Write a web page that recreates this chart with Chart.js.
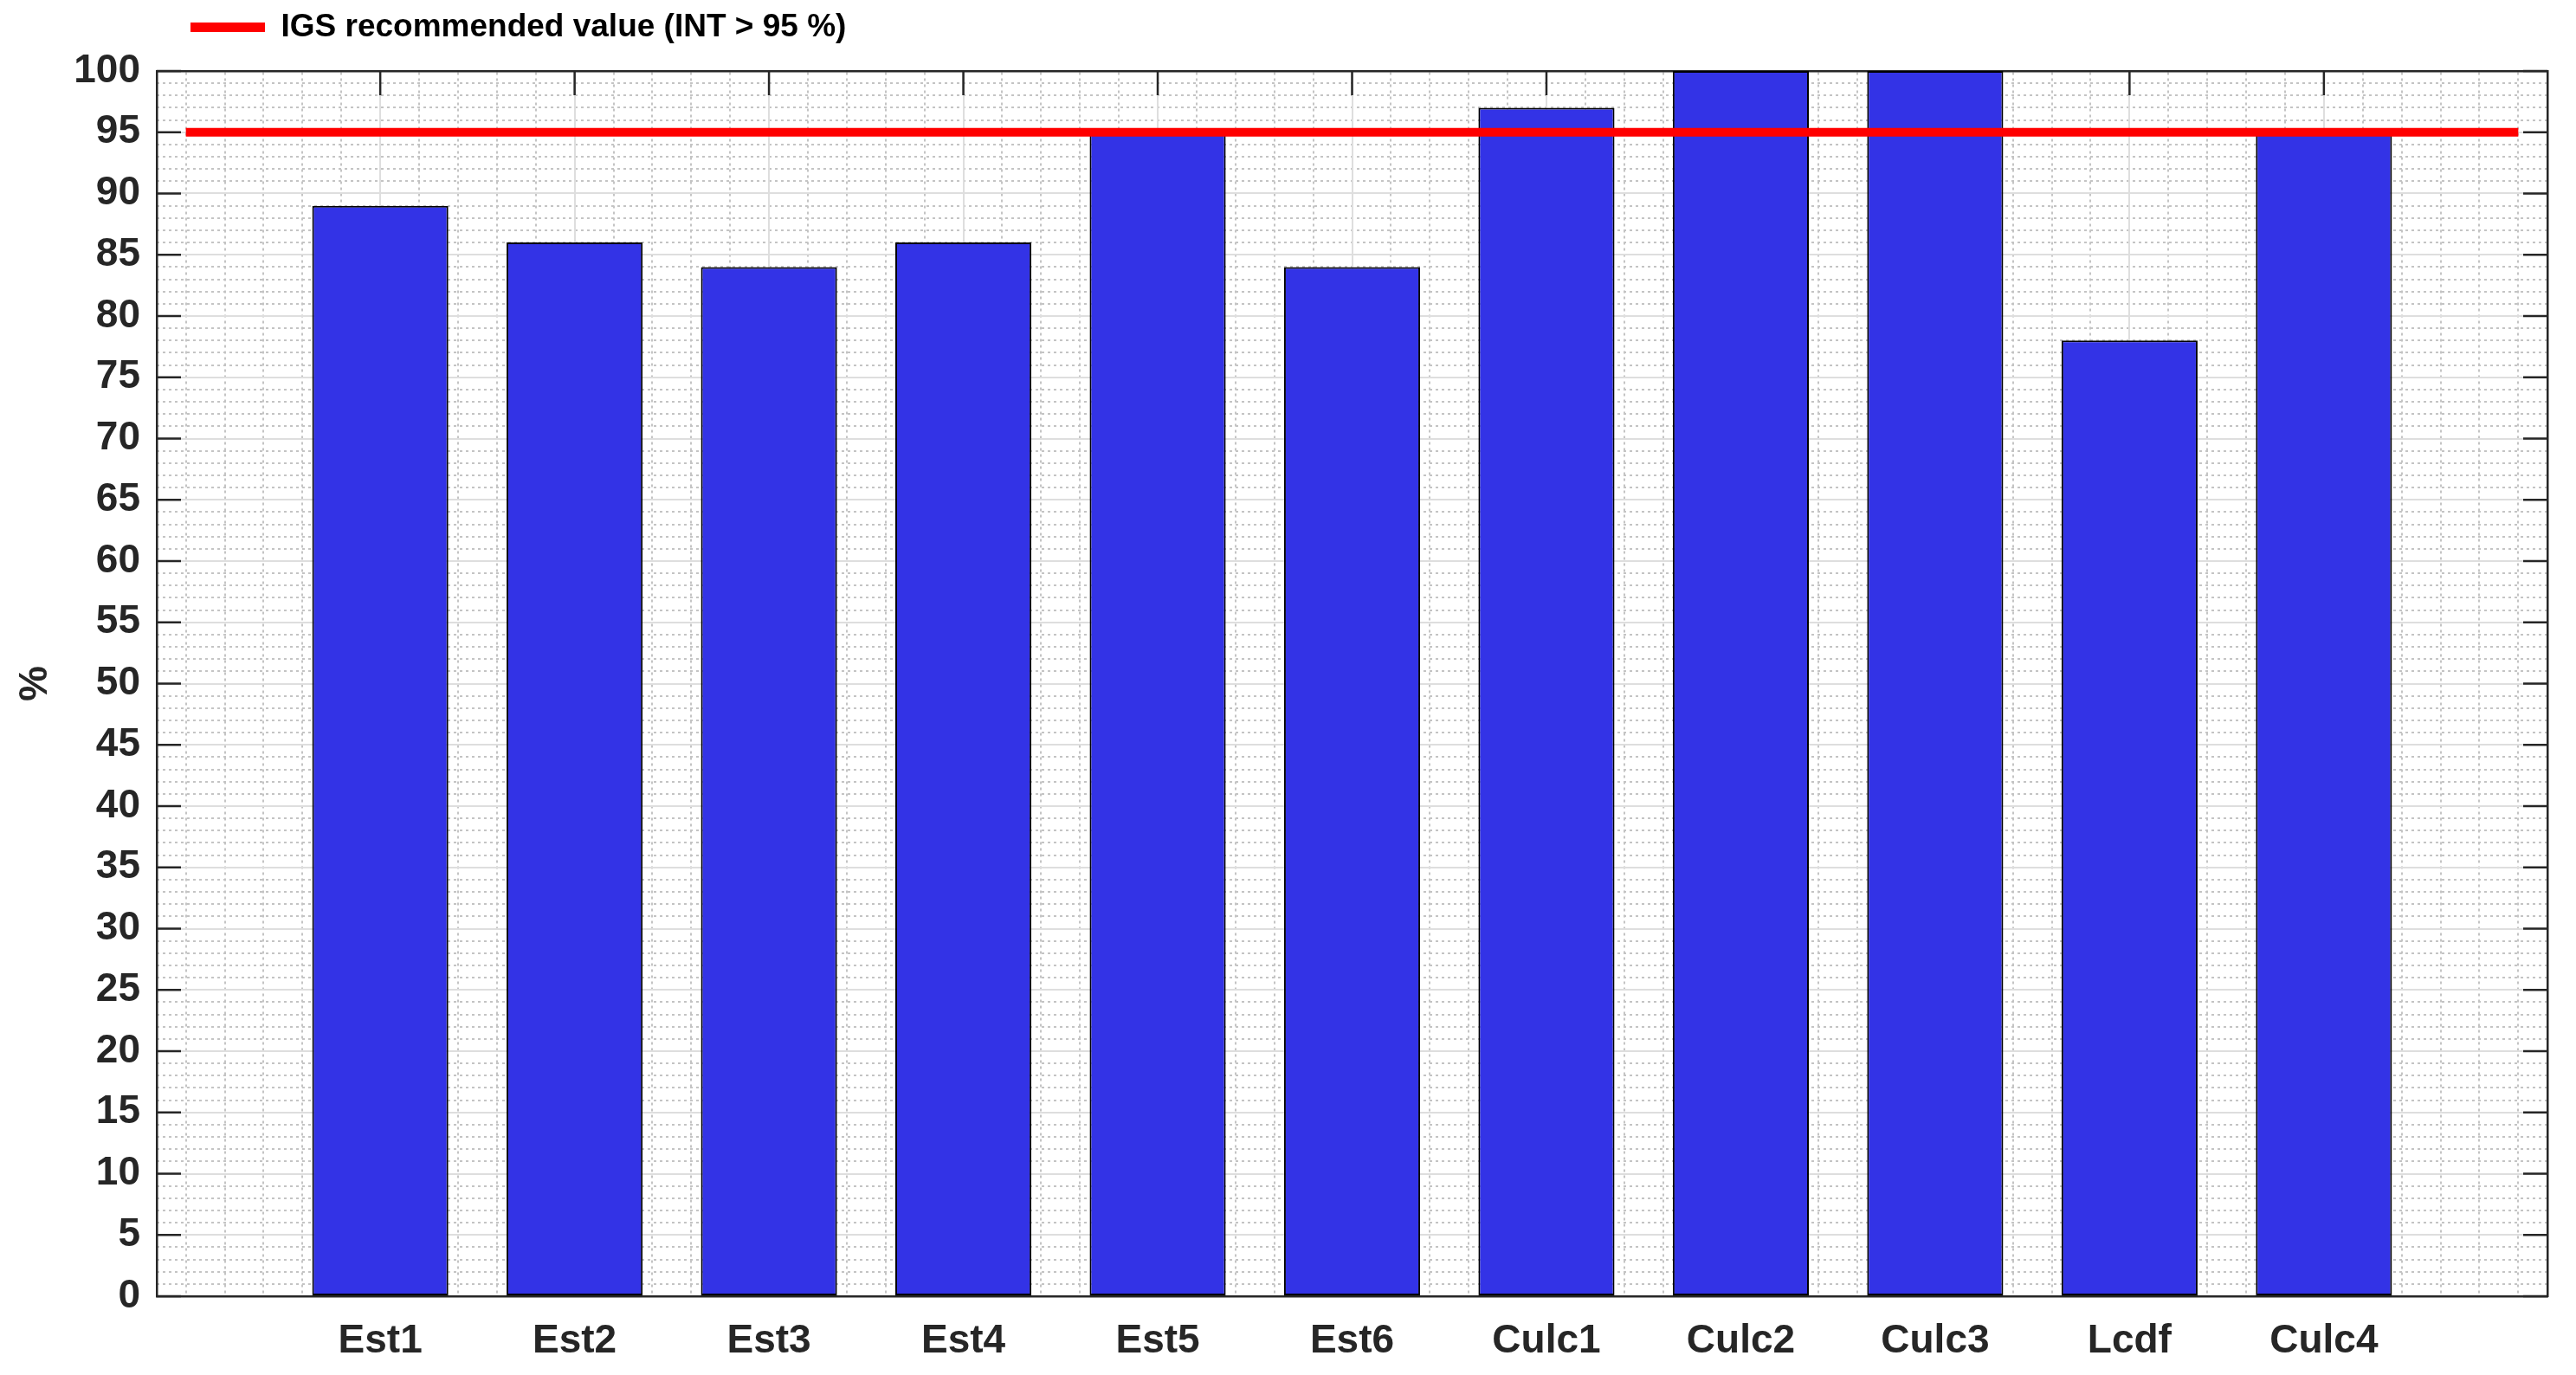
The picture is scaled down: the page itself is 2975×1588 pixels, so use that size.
<!DOCTYPE html>
<html>
<head>
<meta charset="utf-8">
<script src="https://cdn.jsdelivr.net/npm/chart.js@4"></script>
<style>
  body { margin: 0; background: #fff; }
  #wrap { width: 2975px; height: 1588px; }
</style>
</head>
<body>
<div id="wrap"><canvas id="int_chart"></canvas></div>
<script>
const categories = ['Est1', 'Est2', 'Est3', 'Est4', 'Est5', 'Est6', 'Culc1', 'Culc2', 'Culc3', 'Lcdf', 'Culc4'];
const intValues = [89, 86, 84, 86, 95, 84, 97, 100, 100, 78, 95];
const yTickValues = [0, 5, 10, 15, 20, 25, 30, 35, 40, 45, 50, 55, 60, 65, 70, 75, 80, 85, 90, 95, 100];
const igsLabel = 'IGS recommended value (INT > 95 %)';
const igsValue = 95;
const igsRange = [0, 12];

const textColor = '#262626';
const axisFont = { family: "'Liberation Sans', Arial, sans-serif", size: 46, weight: 'bold' };

/* minor grid positions (every 0.2 on x, every 1 on y), majors are drawn by main axes */
const xMinor = [];
for (let i = 0; i <= 60; i++) if (i % 5 !== 0 || i === 0 || i === 60) xMinor.push(i / 5);
const yMinor = [];
for (let i = 1; i < 100; i++) if (i % 5 !== 0) yMinor.push(i);

/* inward tick marks like matlab */
const innerTicks = {
    id: 'innerTicks',
    beforeDatasetsDraw(chart) {
        const { ctx, chartArea: a, scales: { x, y } } = chart;
        ctx.save();
        ctx.strokeStyle = textColor;
        ctx.lineWidth = 2.5;
        ctx.beginPath();
        y.ticks.forEach(t => {
            const py = y.getPixelForValue(t.value);
            ctx.moveTo(a.left, py); ctx.lineTo(a.left + 28, py);
            ctx.moveTo(a.right - 28, py); ctx.lineTo(a.right, py);
        });
        x.ticks.forEach(t => {
            const px = x.getPixelForValue(t.value);
            ctx.moveTo(px, a.top); ctx.lineTo(px, a.top + 28);
            ctx.moveTo(px, a.bottom - 28); ctx.lineTo(px, a.bottom);
        });
        ctx.stroke();
        ctx.restore();
    }
};

const legendShift = {
    id: 'legendShift',
    afterLayout(chart) {
        chart.legend.left += 207;
        chart.legend.right += 207;
    }
};

const ctx = document.getElementById('int_chart').getContext('2d');

new Chart(ctx, {
    data: {
        datasets: [{
            type: 'line',
            label: igsLabel,
            data: igsRange.map(x => ({ x: x, y: igsValue })),
            borderColor: '#ff0000',
            backgroundColor: '#ff0000',
            borderWidth: 10,
            borderCapStyle: 'butt',
            pointRadius: 0,
            order: 0
        }, {
            type: 'bar',
            label: 'INT',
            data: intValues.map((v, i) => ({ x: i + 1, y: v })),
            backgroundColor: '#3333e6',
            borderColor: '#000000',
            borderWidth: 2,
            borderSkipped: false,
            categoryPercentage: 1,
            barPercentage: 0.7,
            order: 1
        }]
    },
    options: {
        responsive: true,
        maintainAspectRatio: false,
        animation: false,
        layout: { padding: 0 },
        plugins: {
            tooltip: { enabled: false },
            legend: {
                position: 'top',
                align: 'start',
                labels: {
                    color: '#000000',
                    font: { family: "'Liberation Sans', Arial, sans-serif", size: 37, weight: 'bold' },
                    boxWidth: 86,
                    boxHeight: 11,
                    padding: 13,
                    generateLabels: chart => Chart.defaults.plugins.legend.labels.generateLabels(chart)
                        .filter(l => l.datasetIndex === 0)
                        .map(l => Object.assign(l, { lineWidth: 0 }))
                }
            }
        },
        scales: {
            x: {
                type: 'linear',
                position: 'bottom',
                min: -0.15,
                max: 12.15,
                offset: false,
                afterBuildTicks: s => { s.ticks = categories.map((c, i) => ({ value: i + 1 })); },
                afterFit: s => { s.height = 91; },
                ticks: {
                    color: textColor,
                    font: axisFont,
                    padding: 25,
                    maxRotation: 0,
                    autoSkip: false,
                    callback: v => categories[v - 1]
                },
                grid: { color: '#dedede', lineWidth: 2, drawTicks: false, offset: false, z: -1 },
                border: { color: textColor, width: 2.5 }
            },
            xm: {
                type: 'linear',
                position: 'top',
                min: -0.15,
                max: 12.15,
                offset: false,
                afterBuildTicks: s => { s.ticks = xMinor.map(v => ({ value: v })); },
                afterFit: s => { s.height = Math.max(82 - s.chart.legend.height, 0); },
                ticks: { display: false },
                grid: { color: '#c4c4c4', lineWidth: 2, drawTicks: false, offset: false, z: -2 },
                border: { color: textColor, width: 2.5, dash: [3, 4] }
            },
            y: {
                type: 'linear',
                position: 'left',
                min: 0,
                max: 100,
                afterBuildTicks: s => { s.ticks = yTickValues.map(v => ({ value: v })); },
                afterFit: s => { s.width = 181; },
                ticks: { color: textColor, font: axisFont, padding: 19 },
                grid: { color: '#dedede', lineWidth: 2, drawTicks: false, z: -1 },
                border: { color: textColor, width: 2.5 },
                title: {
                    display: true,
                    text: '%',
                    color: textColor,
                    font: axisFont,
                    padding: { top: 14, bottom: 0 }
                }
            },
            ym: {
                type: 'linear',
                position: 'right',
                min: 0,
                max: 100,
                afterBuildTicks: s => { s.ticks = yMinor.map(v => ({ value: v })); },
                afterFit: s => { s.width = 33; },
                ticks: { display: false },
                grid: { color: '#c4c4c4', lineWidth: 2, drawTicks: false, z: -2 },
                border: { color: textColor, width: 2.5, dash: [3, 4] }
            }
        }
    },
    plugins: [innerTicks, legendShift]
});
</script>
</body>
</html>
